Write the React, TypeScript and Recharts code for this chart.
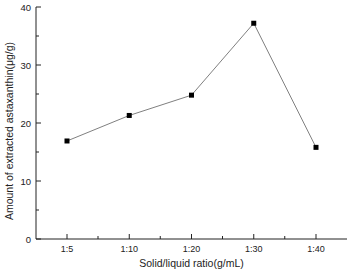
import { LineChart, Line, XAxis, YAxis } from "recharts"

const ratios = ["1:5", "1:10", "1:20", "1:30", "1:40"]
const astaxanthin = [16.9, 21.3, 24.8, 37.2, 15.8]
const yTicks = [0, 5, 10, 15, 20, 25, 30, 35, 40]

const data = ratios.map((r, i) => ({ ratio: r, value: astaxanthin[i] }))

const axisColor = "#222"
const font = "'Liberation Sans', Arial, sans-serif"

function YTick(props: any) {
  const { x, y, payload } = props
  const major = payload.value % 10 === 0
  return (
    <g>
      <line x1={x} y1={y} x2={x + (major ? 5 : 3)} y2={y} stroke={axisColor} />
      {major && (
        <text x={x - 5} y={y} dy={3.5} textAnchor="end" fontSize={9.5} fill="#222" fontFamily={font}>
          {payload.value}
        </text>
      )}
    </g>
  )
}

function XTick(props: any) {
  const { x, y, payload, index } = props
  return (
    <g>
      <line x1={x} y1={y} x2={x} y2={y - 5} stroke={axisColor} />
      {index < ratios.length - 1 && <line x1={x + 31} y1={y} x2={x + 31} y2={y - 3} stroke={axisColor} />}
      <text x={x} y={y + 13} textAnchor="middle" fontSize={9} fill="#222" fontFamily={font}>
        {payload.value}
      </text>
    </g>
  )
}

function YLabel(props: any) {
  const { viewBox } = props
  const cx = 9
  const cy = viewBox.y + viewBox.height / 2 + 8
  return (
    <text
      x={cx}
      y={cy}
      transform={`rotate(-90 ${cx} ${cy})`}
      textAnchor="middle"
      dominantBaseline="central"
      fontSize={10.5}
      fill="#222"
      fontFamily={font}
    >
      Amount of extracted astaxanthin(μg/g)
    </text>
  )
}

function XLabel(props: any) {
  const { viewBox } = props
  return (
    <text
      x={viewBox.x + viewBox.width / 2}
      y={viewBox.y + 28}
      textAnchor="middle"
      fontSize={10.5}
      fill="#222"
      fontFamily={font}
    >
      Solid/liquid ratio(g/mL)
    </text>
  )
}

function SquareDot(props: any) {
  const { cx, cy } = props
  return <rect x={cx - 2.5} y={cy - 2.5} width={5} height={5} fill="#000" />
}

export default function App() {
  return (
    <div style={{ position: "absolute", left: 0, top: 0, background: "#fff" }}>
      <LineChart width={352} height={272} data={data} margin={{ top: 7, right: 5, left: 0, bottom: 0 }}>
        <XAxis
          dataKey="ratio"
          height={33}
          padding={{ left: 31, right: 31 }}
          tickSize={0}
          tickMargin={0}
          tickLine={false}
          axisLine={{ stroke: axisColor }}
          tick={<XTick />}
          interval={0}
          label={<XLabel />}
        />
        <XAxis
          xAxisId="top"
          orientation="top"
          dataKey="ratio"
          height={0}
          tick={false}
          tickLine={false}
          axisLine={{ stroke: axisColor }}
        />
        <YAxis
          domain={[0, 40]}
          ticks={yTicks}
          width={36}
          tickSize={0}
          tickMargin={0}
          tickLine={false}
          axisLine={{ stroke: axisColor }}
          tick={<YTick />}
          interval={0}
          label={<YLabel />}
        />
        <YAxis
          yAxisId="right"
          orientation="right"
          domain={[0, 40]}
          width={0}
          tick={false}
          tickLine={false}
          axisLine={{ stroke: axisColor }}
        />
        <Line
          dataKey="value"
          type="linear"
          stroke="#808080"
          strokeWidth={1}
          dot={<SquareDot />}
          activeDot={false}
          isAnimationActive={false}
        />
      </LineChart>
    </div>
  )
}
